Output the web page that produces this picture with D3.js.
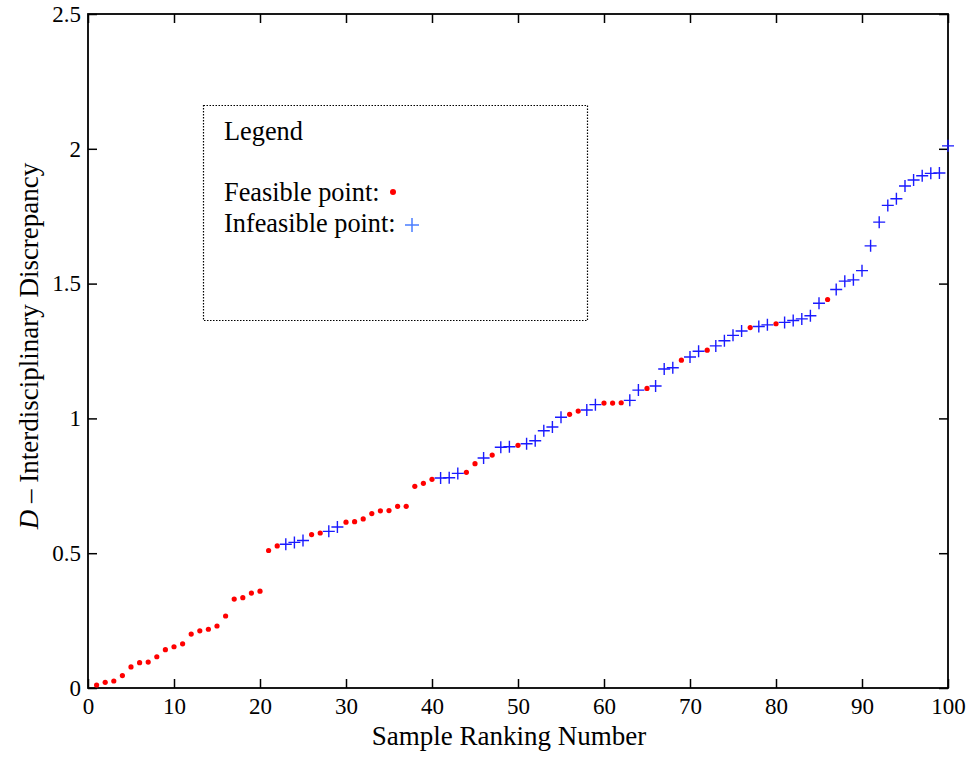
<!DOCTYPE html>
<html>
<head>
<meta charset="utf-8">
<script src="https://cdn.jsdelivr.net/npm/d3@7"></script>
</head>
<body style="margin:0">
<div id="chart"></div>
<script>
// discrepancy D for samples ranked 1..100
var discrepancy = [
  0.011, 0.021, 0.026, 0.046, 0.078, 0.094, 0.096, 0.116, 0.142, 0.153,
  0.164, 0.200, 0.212, 0.218, 0.230, 0.267, 0.330, 0.335, 0.352, 0.359,
  0.510, 0.527, 0.533, 0.540, 0.547, 0.569, 0.575, 0.581, 0.597, 0.615,
  0.617, 0.627, 0.647, 0.657, 0.658, 0.674, 0.674, 0.748, 0.759, 0.774,
  0.779, 0.780, 0.796, 0.800, 0.832, 0.853, 0.864, 0.893, 0.895, 0.900,
  0.906, 0.917, 0.954, 0.968, 1.004, 1.015, 1.027, 1.031, 1.051, 1.057,
  1.057, 1.058, 1.067, 1.105, 1.111, 1.120, 1.183, 1.188, 1.216, 1.228,
  1.249, 1.253, 1.269, 1.288, 1.308, 1.324, 1.337, 1.341, 1.347, 1.351,
  1.356, 1.363, 1.369, 1.381, 1.427, 1.441, 1.478, 1.509, 1.514, 1.548,
  1.640, 1.728, 1.790, 1.815, 1.862, 1.884, 1.900, 1.909, 1.910, 2.011
];
// F = feasible, I = infeasible
var kind = (
  "FFFFFFFFFF" + "FFFFFFFFFF" +
  "FFIIIFFIIF" + "FFFFFFFFFF" +
  "IIIFFIFIIF" + "IIIIIFFIIF" +
  "FFIIFIIIFI" + "IFIIIIFIIF" +
  "IIIIIFIIII" + "IIIIIIIIII"
).split("");

var xTicks = [0, 10, 20, 30, 40, 50, 60, 70, 80, 90, 100];
var yTicks = [0, 0.5, 1, 1.5, 2, 2.5];

var data = discrepancy.map(function (v, i) {
  return { rank: i + 1, D: v, kind: kind[i] };
});

var serif = '"Liberation Serif"';

var margin = {top: 14, right: 21, bottom: 69, left: 88},
    width = 969 - margin.left - margin.right,
    height = 757 - margin.top - margin.bottom;

var root = d3.select("#chart")
  .append("svg")
  .attr("width", 969)
  .attr("height", 757);

var svg = root.append("g")
  .attr("transform", "translate(" + margin.left + "," + margin.top + ")");

var x = d3.scaleLinear().domain([0, 100]).range([0, width]);
var y = d3.scaleLinear().domain([0, 2.5]).range([height, 0]);

var tickLen = 9;

// bottom / left axes with labels, ticks pointing inward
var xAxis = svg.append("g")
  .attr("transform", "translate(0," + height + ")")
  .call(d3.axisBottom(x).tickValues(xTicks).tickSize(-tickLen).tickPadding(10).tickFormat(d3.format("d")));
xAxis.select(".domain").remove();
xAxis.attr("font-family", serif).attr("font-size", 23);

var yAxis = svg.append("g")
  .call(d3.axisLeft(y).tickValues(yTicks).tickSize(-tickLen).tickPadding(7).tickFormat(function (d) { return d; }));
yAxis.select(".domain").remove();
yAxis.attr("font-family", serif).attr("font-size", 23);

// top / right ticks without labels
svg.append("g")
  .call(d3.axisTop(x).tickValues(xTicks).tickSize(-tickLen).tickFormat(""))
  .call(function (g) { g.select(".domain").remove(); });

svg.append("g")
  .attr("transform", "translate(" + width + ",0)")
  .call(d3.axisRight(y).tickValues(yTicks).tickSize(-tickLen).tickFormat(""))
  .call(function (g) { g.select(".domain").remove(); });

svg.selectAll(".tick line").attr("stroke", "#000").attr("stroke-width", 1.5);

// frame
svg.append("rect")
  .attr("x", 0).attr("y", 0)
  .attr("width", width).attr("height", height)
  .attr("fill", "none")
  .attr("stroke", "#000")
  .attr("stroke-width", 1.8);

// feasible points
svg.append("g")
  .selectAll("circle")
  .data(data.filter(function (d) { return d.kind === "F"; }))
  .enter()
  .append("circle")
  .attr("cx", function (d) { return x(d.rank); })
  .attr("cy", function (d) { return y(d.D); })
  .attr("r", 2.6)
  .attr("fill", "#ff0000");

// infeasible points
var plusSize = 6;
svg.append("g")
  .selectAll("path")
  .data(data.filter(function (d) { return d.kind === "I"; }))
  .enter()
  .append("path")
  .attr("transform", function (d) { return "translate(" + x(d.rank) + "," + y(d.D) + ")"; })
  .attr("d", "M" + (-plusSize) + ",0H" + plusSize + "M0," + (-plusSize) + "V" + plusSize)
  .attr("stroke", "#1a1aff")
  .attr("stroke-width", 1.4)
  .attr("fill", "none");

// legend box (coordinates are in svg space)
var legend = root.append("g").attr("class", "legend")
  .attr("font-family", serif).attr("font-size", 26.3);

legend.append("rect")
  .attr("x", 203.5).attr("y", 105.5)
  .attr("width", 384).attr("height", 215)
  .attr("fill", "none")
  .attr("stroke", "#000")
  .attr("stroke-width", 1.2)
  .attr("stroke-dasharray", "1.5,1.5");

legend.append("text")
  .attr("x", 224).attr("y", 140)
  .text("Legend");

legend.append("text")
  .attr("x", 224).attr("y", 201)
  .text("Feasible point:");

legend.append("circle")
  .attr("cx", 393).attr("cy", 192)
  .attr("r", 3)
  .attr("fill", "#ff0000");

legend.append("text")
  .attr("x", 224).attr("y", 232)
  .text("Infeasible point:");

legend.append("path")
  .attr("transform", "translate(412,225)")
  .attr("d", "M-7,0H7M0,-7V7")
  .attr("stroke", "#4a7dff")
  .attr("stroke-width", 1.5);

// axis titles
svg.append("text")
  .attr("text-anchor", "middle")
  .attr("x", 509 - margin.left)
  .attr("y", height + 57)
  .attr("font-family", serif).attr("font-size", 27)
  .text("Sample Ranking Number");

var ylab = svg.append("text")
  .attr("text-anchor", "middle")
  .attr("transform", "translate(-50," + (346 - margin.top) + ") rotate(-90)")
  .attr("font-family", serif).attr("font-size", 27);
ylab.append("tspan").attr("font-style", "italic").text("D");
ylab.append("tspan").text(" \u2013 Interdisciplinary Discrepancy");
</script>
</body>
</html>
